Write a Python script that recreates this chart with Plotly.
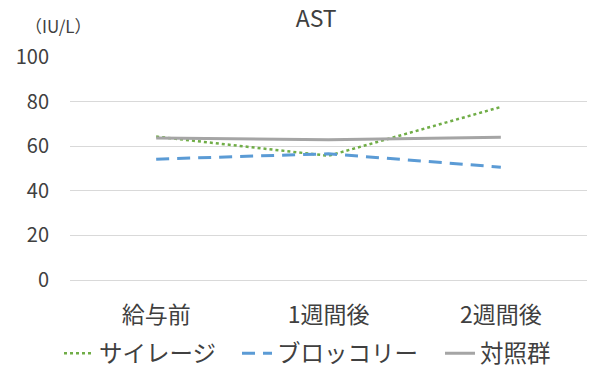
import plotly.graph_objects as go

categories = ["給与前", "1週間後", "2週間後"]
silage = [64.3, 55.7, 77.6]
broccoli = [54.2, 56.6, 50.6]
control = [63.7, 62.9, 64.0]

FONT = "Noto Sans CJK JP"
TXT = "#404040"

fig = go.Figure()
fig.add_trace(go.Scatter(x=categories, y=silage, name="サイレージ", mode="lines",
                         legend="legend",
                         line=dict(color="#70AD47", width=2.5, dash="dot")))
fig.add_trace(go.Scatter(x=categories, y=broccoli, name="ブロッコリー", mode="lines",
                         legend="legend2",
                         line=dict(color="#5B9BD5", width=3, dash="13px,8px")))
fig.add_trace(go.Scatter(x=categories, y=control, name="対照群", mode="lines",
                         legend="legend3",
                         line=dict(color="#A5A5A5", width=3)))


def legend_at(xpx):
    return dict(orientation="h", x=xpx / 591, xref="container", xanchor="left",
                y=0.045, yref="container", yanchor="middle",
                font=dict(size=23.5, family=FONT, color=TXT), itemwidth=30,
                bgcolor="rgba(0,0,0,0)")


fig.update_layout(
    width=591, height=370,
    margin=dict(l=70, r=4, t=57, b=90, autoexpand=False),
    paper_bgcolor="white", plot_bgcolor="white",
    font=dict(family=FONT, color=TXT, size=20),
    title=dict(text="AST", x=0.535, xanchor="center", y=0.95, yanchor="middle",
               font=dict(size=23, color=TXT)),
    showlegend=True,
    legend=legend_at(59),
    legend2=legend_at(237),
    legend3=legend_at(440),
    xaxis=dict(showgrid=False, showline=False, ticks="", tickfont=dict(size=23),
               range=[-0.5, 2.5], ticklabelstandoff=19),
    yaxis=dict(range=[0, 100], dtick=20, showgrid=True, gridcolor="#D9D9D9",
               gridwidth=1, zeroline=True, zerolinecolor="#D9D9D9", zerolinewidth=1,
               ticks="", tickfont=dict(size=20), ticklabelstandoff=20),
)
fig.add_annotation(text="（IU/L）", xref="paper", yref="paper", x=-0.023, y=1.14,
                   xanchor="center", yanchor="middle", showarrow=False,
                   font=dict(size=17, color=TXT))

fig.write_html("out.html")
